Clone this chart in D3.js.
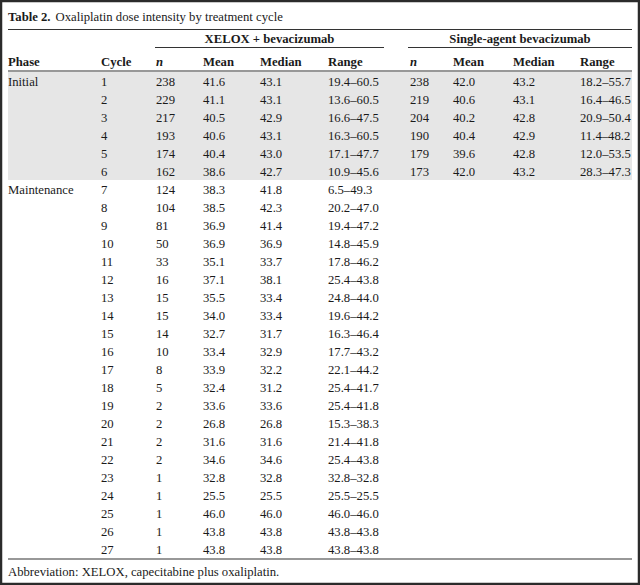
<!DOCTYPE html>
<html>
<head>
<meta charset="utf-8">
<script src="https://cdn.jsdelivr.net/npm/d3@7"></script>
<style>
  body { margin: 0; background: #fff; }
  svg text { font-family: "Liberation Serif", "Times New Roman", serif; fill: #1a1a1a; }
</style>
</head>
<body>
<div id="chart"></div>
<script>
var cycles = [1, 2, 3, 4, 5, 6, 7, 8, 9, 10, 11, 12, 13, 14, 15, 16, 17, 18, 19, 20, 21, 22, 23, 24, 25, 26, 27]
var phases = ['Initial', '', '', '', '', '', 'Maintenance', '', '', '', '', '', '', '', '', '', '', '', '', '', '', '', '', '', '', '', '']

var xeloxN = [238, 229, 217, 193, 174, 162, 124, 104, 81, 50, 33, 16, 15, 15, 14, 10, 8, 5, 2, 2, 2, 2, 1, 1, 1, 1, 1]
var xeloxMean = ['41.6', '41.1', '40.5', '40.6', '40.4', '38.6', '38.3', '38.5', '36.9', '36.9', '35.1', '37.1', '35.5',
    '34.0', '32.7', '33.4', '33.9', '32.4', '33.6', '26.8', '31.6', '34.6', '32.8', '25.5', '46.0', '43.8', '43.8']
var xeloxMedian = ['43.1', '43.1', '42.9', '43.1', '43.0', '42.7', '41.8', '42.3', '41.4', '36.9', '33.7', '38.1', '33.4',
    '33.4', '31.7', '32.9', '32.2', '31.2', '33.6', '26.8', '31.6', '34.6', '32.8', '25.5', '46.0', '43.8', '43.8']
var xeloxRange = ['19.4–60.5', '13.6–60.5', '16.6–47.5', '16.3–60.5', '17.1–47.7', '10.9–45.6', '6.5–49.3', '20.2–47.0',
    '19.4–47.2', '14.8–45.9', '17.8–46.2', '25.4–43.8', '24.8–44.0', '19.6–44.2', '16.3–46.4', '17.7–43.2', '22.1–44.2',
    '25.4–41.7', '25.4–41.8', '15.3–38.3', '21.4–41.8', '25.4–43.8', '32.8–32.8', '25.5–25.5', '46.0–46.0', '43.8–43.8', '43.8–43.8']

var singleN = [238, 219, 204, 190, 179, 173]
var singleMean = ['42.0', '40.6', '40.2', '40.4', '39.6', '42.0']
var singleMedian = ['43.2', '43.1', '42.8', '42.9', '42.8', '43.2']
var singleRange = ['18.2–55.7', '16.4–46.5', '20.9–50.4', '11.4–48.2', '12.0–53.5', '28.3–47.3']

var headers = ['Phase', 'Cycle', 'n', 'Mean', 'Median', 'Range', 'n', 'Mean', 'Median', 'Range']
var groups = ['XELOX + bevacizumab', 'Single-agent bevacizumab']
var title = 'Oxaliplatin dose intensity by treatment cycle'
var footnote = 'Abbreviation: XELOX, capecitabine plus oxaliplatin.'

var width = 640
var height = 585
var fontSize = 12.7
var colX = [8, 101, 156, 203, 260, 328, 410, 453, 513, 580]
var tableTop = 72
var rowH = 18

var svg = d3.select('#chart').append('svg')
    .attr('width', width)
    .attr('height', height)

var y = d3.scaleBand()
    .domain(cycles)
    .range([tableTop, tableTop + cycles.length * rowH])
    .padding(0)

var initialCount = phases.indexOf('Maintenance')

// shaded initial phase band
svg.append('rect')
    .attr('x', 8)
    .attr('y', y(cycles[0]))
    .attr('width', width - 16)
    .attr('height', y(cycles[initialCount - 1]) + y.bandwidth() - y(cycles[0]))
    .attr('fill', '#e6e6e6')

// frame
svg.append('rect')
    .attr('x', 1)
    .attr('y', 1)
    .attr('width', width - 2)
    .attr('height', height - 2)
    .attr('fill', 'none')
    .attr('stroke', '#2b2b2b')
    .attr('stroke-width', 2.5)

function hline(x1, x2, yy, w) {
    svg.append('line')
        .attr('x1', x1).attr('x2', x2)
        .attr('y1', yy).attr('y2', yy)
        .attr('stroke', '#333')
        .attr('stroke-width', w || 1)
}

// title
var t = svg.append('text')
    .attr('x', 8)
    .attr('y', 21)
    .style('font-size', fontSize + 'px')
t.append('tspan').style('font-weight', 'bold').text('Table 2.')
t.append('tspan').attr('dx', 5).text(title)

hline(8, width - 8, 29.5, 1.2)

// group headers
var groupSpans = [[155, 384], [408, 632]]
groups.forEach((g, i) => {
    svg.append('text')
        .attr('x', (groupSpans[i][0] + groupSpans[i][1]) / 2)
        .attr('y', 43)
        .attr('text-anchor', 'middle')
        .style('font-size', fontSize + 'px')
        .style('font-weight', 'bold')
        .text(g)
    hline(groupSpans[i][0], groupSpans[i][1], 47.5, 1)
})

// column headers
svg.selectAll('.colhead')
    .data(headers)
    .enter()
    .append('text')
    .attr('class', 'colhead')
    .attr('x', (d, i) => colX[i])
    .attr('y', 66)
    .style('font-size', fontSize + 'px')
    .style('font-weight', 'bold')
    .style('font-style', d => d == 'n' ? 'italic' : 'normal')
    .text(d => d)

hline(8, width - 8, 71, 1.2)

// body rows
var rows = cycles.map((c, i) => [
    phases[i], c, xeloxN[i], xeloxMean[i], xeloxMedian[i], xeloxRange[i],
    i < singleN.length ? singleN[i] : '',
    i < singleMean.length ? singleMean[i] : '',
    i < singleMedian.length ? singleMedian[i] : '',
    i < singleRange.length ? singleRange[i] : ''
])

var rowG = svg.selectAll('.row')
    .data(rows)
    .enter()
    .append('g')
    .attr('class', 'row')
    .attr('transform', (d, i) => 'translate(0,' + (y(cycles[i]) + y.bandwidth() / 2 + 0.5) + ')')

rowG.selectAll('text')
    .data(d => d)
    .enter()
    .append('text')
    .attr('x', (d, i) => colX[i])
    .attr('dy', '0.35em')
    .style('font-size', fontSize + 'px')
    .text(d => d)

var bottom = y(cycles[cycles.length - 1]) + y.bandwidth()
hline(8, width - 8, bottom + 1, 1.2)

svg.append('text')
    .attr('x', 8)
    .attr('y', bottom + 18)
    .style('font-size', fontSize + 'px')
    .text(footnote)
</script>
</body>
</html>
